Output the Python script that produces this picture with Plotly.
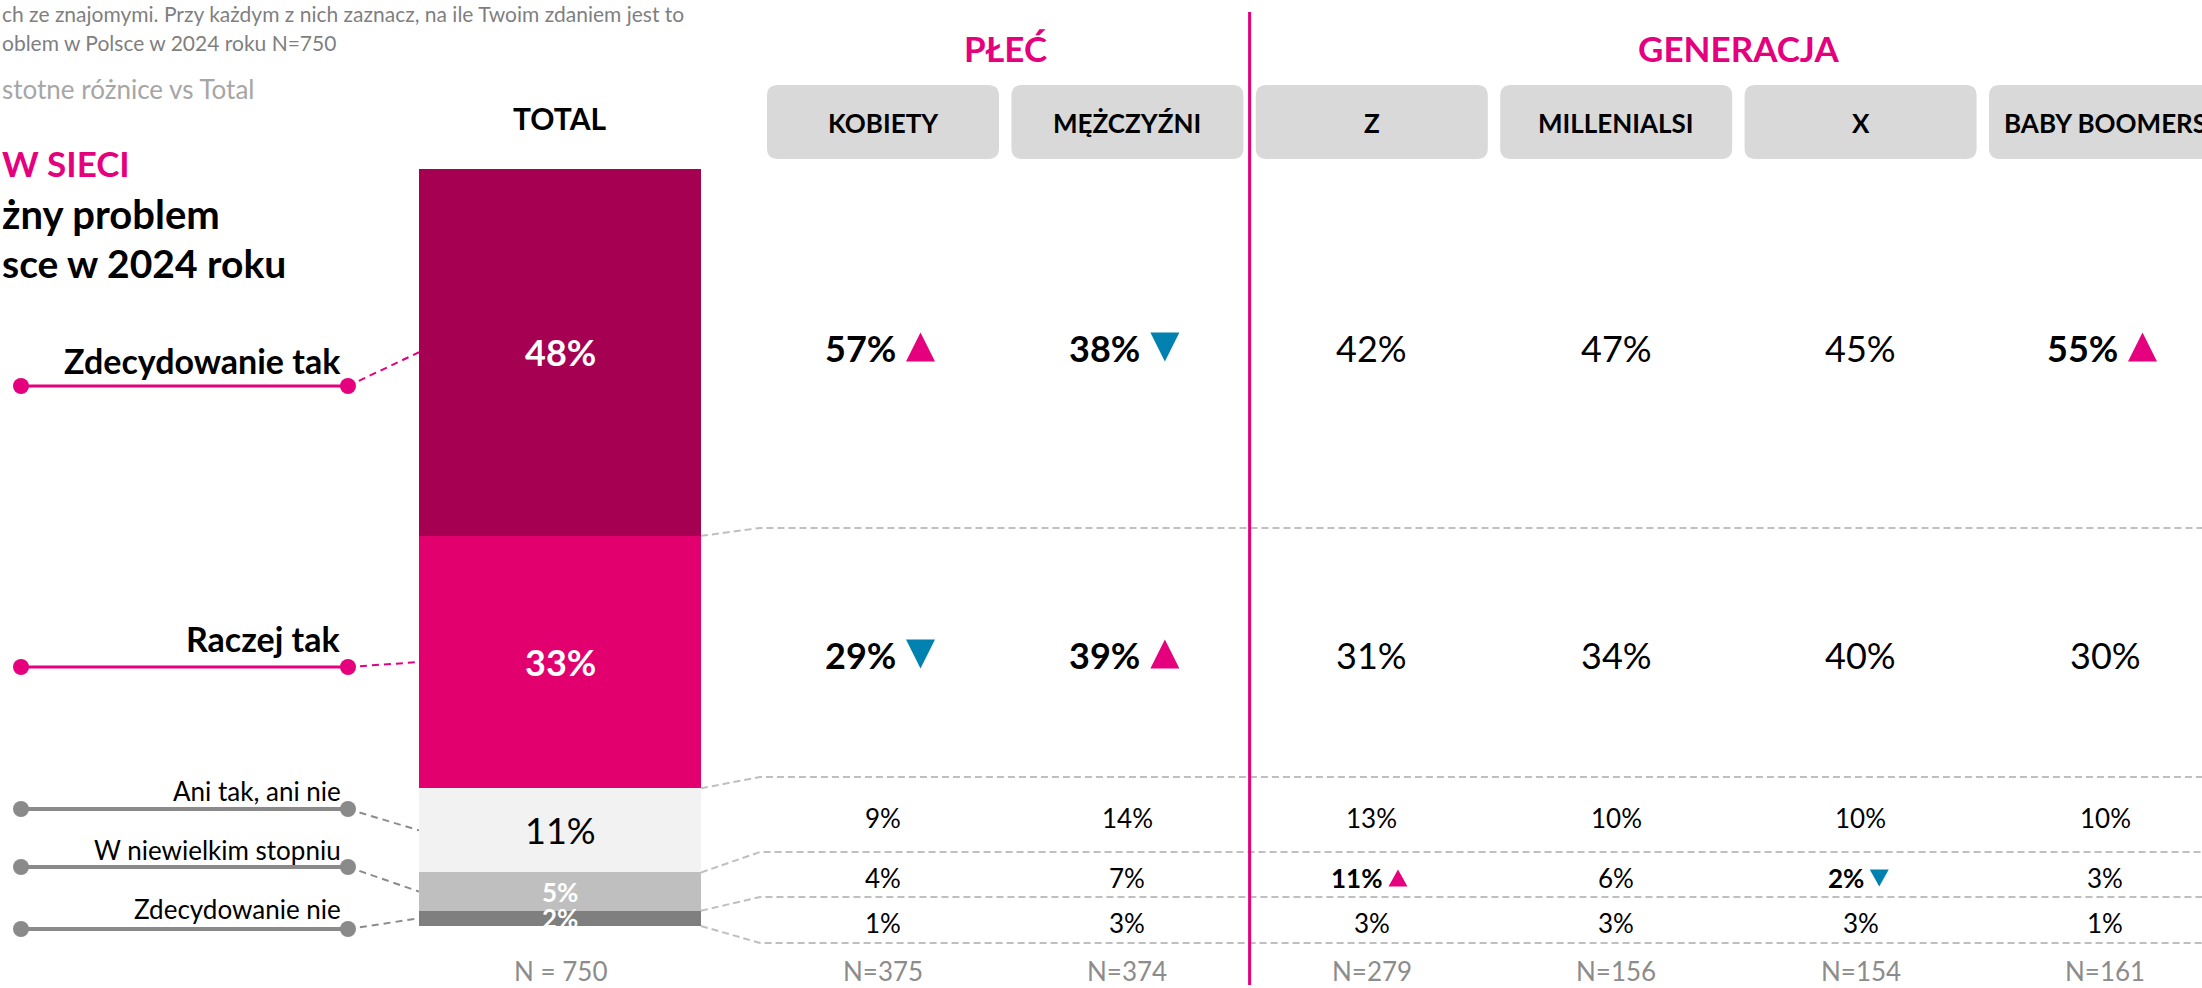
'''
    Stacked bar (TOTAL) with the breakdown table by gender and generation
'''

import plotly.graph_objects as go

# ---- data ----
ANSWERS = ['Zdecydowanie tak', 'Raczej tak', 'Ani tak, ani nie',
           'W niewielkim stopniu', 'Zdecydowanie nie']
TOTAL_VALUES = [48, 33, 11, 5, 2]
TOTAL_N = 750

SECTIONS = ['PŁEĆ', 'GENERACJA']
GROUPS = ['KOBIETY', 'MĘŻCZYŹNI', 'Z', 'MILLENIALSI', 'X', 'BABY BOOMERS']
GROUP_N = [375, 374, 279, 156, 154, 161]

ZDECYDOWANIE_TAK = [57, 38, 42, 47, 45, 55]
RACZEJ_TAK = [29, 39, 31, 34, 40, 30]
ANI_TAK_ANI_NIE = [9, 14, 13, 10, 10, 10]
W_NIEWIELKIM = [4, 7, 11, 6, 2, 3]
ZDECYDOWANIE_NIE = [1, 3, 3, 3, 3, 1]

# istotne różnice vs Total: 1 = wyżej, -1 = niżej, 0 = brak
SIG_ZDECYDOWANIE_TAK = [1, -1, 0, 0, 0, 1]
SIG_RACZEJ_TAK = [-1, 1, 0, 0, 0, 0]
SIG_ANI_TAK_ANI_NIE = [0, 0, 0, 0, 0, 0]
SIG_W_NIEWIELKIM = [0, 0, 1, 0, -1, 0]
SIG_ZDECYDOWANIE_NIE = [0, 0, 0, 0, 0, 0]

QUESTION = ['ch ze znajomymi. Przy każdym z nich zaznacz, na ile Twoim zdaniem jest to',
            'oblem w Polsce w 2024 roku N=750']
NOTE = 'stotne różnice vs Total'
TITLE = ['W SIECI', 'żny problem', 'sce w 2024 roku']

# ---- style / layout ----
W, H = 2202, 988
FONT = 'Lato'
PINK = '#e5007d'
BLUE = '#0081b0'
BAR_COLORS = ['#a60053', '#e2006f', '#f2f2f2', '#bfbfbf', '#7f7f7f']
BAR_TEXT = [('white', True, 36), ('white', True, 36), ('black', False, 36),
            ('white', True, 26), ('white', True, 26)]
LINE_COLORS = [PINK, PINK, '#8a8a8a', '#8a8a8a', '#8a8a8a']

BAR_X, BAR_W = 560, 282
BAR_BASE_PX, PX_PER_PCT = 926, 7.65
COL_X0, COL_PITCH, BOX_W = 883, 244.4, 232
ROW_Y = [348, 655, 818, 878, 923]
ROW_LINE_Y = [528, 777, 852, 897, 943]
LABEL_Y = [360, 638, 791, 850, 909]
LABEL_LINE_Y = [386, 667, 809, 867, 929]
N_Y = 971


def bar_px(v):
    ''' pixel position of a value on the bar axis (same mapping as yaxis2) '''
    return BAR_BASE_PX - v * PX_PER_PCT


def col_x(i):
    return COL_X0 + i * COL_PITCH


def init_figure():
    fig = go.Figure()
    fig.update_layout(
        width=W, height=H,
        margin=dict(l=0, r=0, t=0, b=0),
        paper_bgcolor='white', plot_bgcolor='white',
        barmode='stack', showlegend=False,
        font=dict(family=FONT, color='black'),
        xaxis=dict(range=[0, W], visible=False, fixedrange=True),
        yaxis=dict(range=[H, 0], visible=False, fixedrange=True),
        yaxis2=dict(range=[-(H - BAR_BASE_PX) / PX_PER_PCT, BAR_BASE_PX / PX_PER_PCT],
                    overlaying='y', visible=False, fixedrange=True),
    )
    return fig


def add_text(fig, text, x, y, size, color='black', anchor='center', yref='y'):
    fig.add_annotation(x=x, y=y, xref='x', yref=yref, text=text, showarrow=False,
                       xanchor=anchor, yanchor='middle',
                       font=dict(family=FONT, size=size, color=color))


def add_triangle(fig, x0, yc, w, h, up, color):
    top, bot = yc - h / 2, yc + h / 2
    if up:
        path = f'M{x0},{bot} L{x0 + w},{bot} L{x0 + w / 2},{top} Z'
    else:
        path = f'M{x0},{top} L{x0 + w},{top} L{x0 + w / 2},{bot} Z'
    fig.add_shape(type='path', path=path, xref='x', yref='y',
                  fillcolor=color, line_width=0)


def draw_value(fig, v, sig, x, y, big):
    size = 36 if big else 26
    if sig == 0:
        add_text(fig, f'{v}%', x, y, size)
        return
    # approx. width of the bold label (Lato has tabular digits)
    tw = (len(str(v)) * 0.58 + 0.70) * size
    tri_w, tri_h, gap = (29, 29, 8) if big else (19, 17, 4)
    start = x - (tw + gap + tri_w) / 2
    add_text(fig, f'<b>{v}%</b>', start + tw, y, size, anchor='right')
    add_triangle(fig, start + tw + gap, y - (1 if big else 0), tri_w, tri_h,
                 sig > 0, PINK if sig > 0 else BLUE)


def draw_header(fig):
    add_text(fig, QUESTION[0], 0, 13, 21, '#7f7f7f', 'left')
    add_text(fig, QUESTION[1], 0, 42, 21, '#7f7f7f', 'left')
    add_text(fig, NOTE, 0, 89, 26, '#a6a6a6', 'left')
    add_text(fig, f'<b>{TITLE[0]}</b>', 0, 163, 35, PINK, 'left')
    add_text(fig, f'<b>{TITLE[1]}</b>', 0, 214, 40, 'black', 'left')
    add_text(fig, f'<b>{TITLE[2]}</b>', 0, 263, 39, 'black', 'left')
    add_text(fig, '<b>TOTAL</b>', BAR_X, 118, 30)

    add_text(fig, f'<b>{SECTIONS[0]}</b>', (col_x(0) + col_x(1)) / 2, 48, 35, PINK)
    add_text(fig, f'<b>{SECTIONS[1]}</b>', (col_x(2) + col_x(5)) / 2, 48, 35, PINK)

    r = 11
    y0, y1 = 85, 159
    for i, g in enumerate(GROUPS):
        x0, x1 = col_x(i) - BOX_W / 2, col_x(i) + BOX_W / 2
        path = (f'M{x0 + r},{y0} H{x1 - r} Q{x1},{y0} {x1},{y0 + r} V{y1 - r} '
                f'Q{x1},{y1} {x1 - r},{y1} H{x0 + r} Q{x0},{y1} {x0},{y1 - r} '
                f'V{y0 + r} Q{x0},{y0} {x0 + r},{y0} Z')
        fig.add_shape(type='path', path=path, xref='x', yref='y',
                      fillcolor='#d9d9d9', line_width=0, layer='below')
        add_text(fig, f'<b>{g}</b>', col_x(i), 123, 26)

    # separator between PŁEĆ and GENERACJA
    sep_x = (col_x(1) + col_x(2)) / 2
    fig.add_shape(type='line', x0=sep_x, x1=sep_x, y0=12, y1=985, xref='x', yref='y',
                  line=dict(color=PINK, width=3))


def draw_total_bar(fig):
    cum = 0
    mids = [0] * len(TOTAL_VALUES)
    for i in reversed(range(len(TOTAL_VALUES))):
        v = TOTAL_VALUES[i]
        fig.add_trace(go.Bar(x=[BAR_X], y=[v], width=BAR_W, yaxis='y2',
                             marker=dict(color=BAR_COLORS[i], line_width=0),
                             name=ANSWERS[i], hoverinfo='skip'))
        mids[i] = cum + v / 2
        color, bold, size = BAR_TEXT[i]
        txt = f'<b>{v}%</b>' if bold else f'{v}%'
        add_text(fig, txt, BAR_X, mids[i], size, color, yref='y2')
        cum += v
    add_text(fig, f'N = {TOTAL_N}', BAR_X, N_Y, 26, '#8c8c8c')
    return mids


def draw_left_labels(fig, mids):
    bar_left = BAR_X - BAR_W / 2
    for i, lab in enumerate(ANSWERS):
        big = i < 2
        ly = LABEL_LINE_Y[i]
        fig.add_trace(go.Scatter(x=[348, bar_left], y=[ly, bar_px(mids[i])], mode='lines',
                                 line=dict(color=LINE_COLORS[i] if big else '#8c8c8c',
                                           width=2, dash='7px,5px'),
                                 hoverinfo='skip'))
        fig.add_trace(go.Scatter(x=[21, 348], y=[ly, ly], mode='lines+markers',
                                 line=dict(color=LINE_COLORS[i], width=3 if big else 4),
                                 marker=dict(size=16, color=LINE_COLORS[i]),
                                 hoverinfo='skip'))
        txt = f'<b>{lab}</b>' if big else lab
        add_text(fig, txt, 343, LABEL_Y[i], 34 if big else 26, 'black', 'right')


def draw_table(fig):
    rows = [ZDECYDOWANIE_TAK, RACZEJ_TAK, ANI_TAK_ANI_NIE, W_NIEWIELKIM, ZDECYDOWANIE_NIE]
    sigs = [SIG_ZDECYDOWANIE_TAK, SIG_RACZEJ_TAK, SIG_ANI_TAK_ANI_NIE,
            SIG_W_NIEWIELKIM, SIG_ZDECYDOWANIE_NIE]

    # dashed separators, starting at the bar segment boundaries
    bar_right = BAR_X + BAR_W / 2
    bounds = [sum(TOTAL_VALUES[i + 1:]) for i in range(len(TOTAL_VALUES))]
    for b, ly in zip(bounds, ROW_LINE_Y):
        fig.add_trace(go.Scatter(x=[bar_right, 760, W], y=[bar_px(b), ly, ly], mode='lines',
                                 line=dict(color='#bfbfbf', width=2, dash='7px,4px'),
                                 hoverinfo='skip'))

    for r, (vals, sg) in enumerate(zip(rows, sigs)):
        for c, v in enumerate(vals):
            draw_value(fig, v, sg[c], col_x(c), ROW_Y[r], r < 2)

    for c, n in enumerate(GROUP_N):
        add_text(fig, f'N={n}', col_x(c), N_Y, 26, '#8c8c8c')


fig = init_figure()
draw_table(fig)
mids = draw_total_bar(fig)
draw_left_labels(fig, mids)
draw_header(fig)

fig.write_html('out.html', config={'displayModeBar': False},
               post_script="document.body.style.margin='0px';")
